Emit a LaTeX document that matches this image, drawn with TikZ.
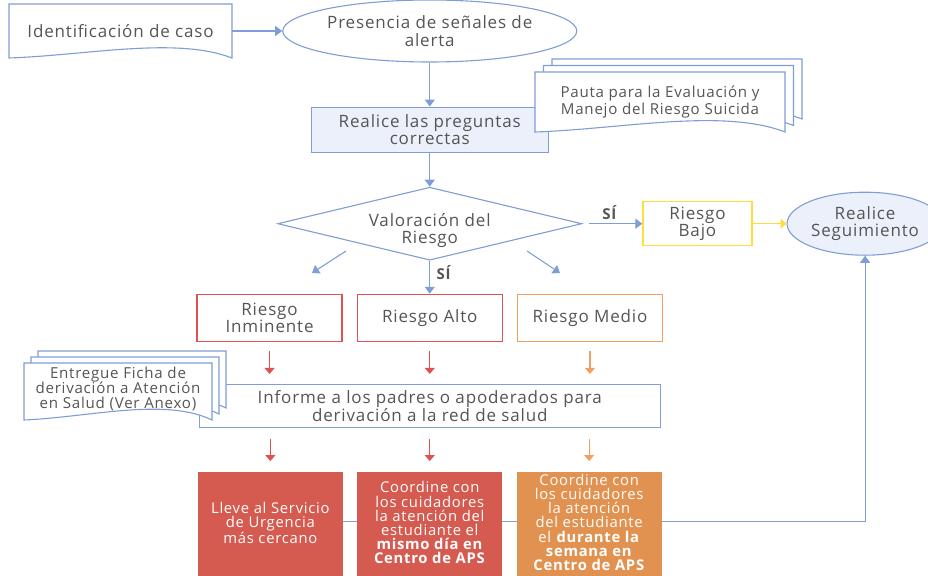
\documentclass[tikz,border=0pt]{standalone}
\usepackage{fontspec}
\setmainfont{Open Sans}[LetterSpace=5]
\usetikzlibrary{arrows.meta,positioning,calc,shapes.geometric,backgrounds}

\definecolor{flowblue}{RGB}{127,158,214}
\definecolor{paleblue}{RGB}{236,240,250}
\definecolor{riskred}{RGB}{224,82,82}
\definecolor{riskorange}{RGB}{240,160,96}
\definecolor{riskyellow}{RGB}{255,222,60}
\definecolor{fillred}{RGB}{213,90,80}
\definecolor{fillorange}{RGB}{226,146,80}
\definecolor{txtgray}{RGB}{85,85,85}

% document outline: centre x, centre y, width, height, style
\newcommand{\docshape}[5]{%
  \draw[#5] (#1-#3/2,#2-#4/2) -- (#1+#3/2,#2-#4/2) -- (#1+#3/2,#2+#4/2)
    .. controls (#1+#3/4,#2+0.1*#4) and (#1-0.15*#3,#2+0.45*#4) .. (#1-#3/2,#2+#4/2) -- cycle;}

\begin{document}
\begin{tikzpicture}[
  x=1pt, y=-1pt,
  txt/.style={font=\fontsize{17}{16.5}\selectfont, text=txtgray, align=center},
  smalltxt/.style={font=\fontsize{15.1}{16.5}\selectfont, text=txtgray, align=center},
  docline/.style={draw=flowblue, line width=1.1pt, fill=white},
  flowbox/.style={txt, draw=flowblue, line width=1.1pt, inner sep=0pt},
  oval/.style={txt, ellipse, draw=flowblue, line width=1.1pt, inner sep=0pt},
  riskbox/.style={txt, draw=#1, line width=1.2pt, fill=white, minimum width=145pt, minimum height=47pt, inner sep=0pt},
  actbox/.style={fill=#1, minimum width=145pt, minimum height=109pt, inner sep=0pt},
  acttxt/.style={font=\fontsize{14.8}{14.2}\selectfont, text=white, align=center},
  arr/.style={draw=flowblue, line width=1.1pt, -{Triangle[width=10pt,length=7pt]}},
  colarr/.style={draw=#1, line width=1.2pt, -{Triangle[width=10pt,length=6pt]}},
  yes/.style={font=\fontsize{15}{17}\bfseries, text=txtgray}
]
\useasboundingbox (0,0) rectangle (928,575);

% top row
\docshape{120.5}{31}{223}{54}{docline}
\node[txt, minimum width=223pt, minimum height=54pt, inner sep=0pt] (ident) at (120.5,31) {Identificación de caso};
\node[oval, fill=white, minimum width=294pt, minimum height=62pt, right=50pt of ident, font=\fontsize{17}{18}\selectfont] (alerta) {Presencia de señales de\\alerta};
\draw[arr] (ident) -- (alerta);

\node[flowbox, fill=paleblue, minimum width=237pt, minimum height=45pt, below=44pt of alerta] (preg) {Realice las preguntas\\correctas};
\draw[arr] (alerta) -- (preg);

\foreach \s in {2,1,0}
  \docshape{660+8.5*\s}{102-6.5*\s}{250}{60}{docline}
\node[smalltxt, font=\fontsize{15.1}{17}\selectfont] (pauta) at (660,102) {Pauta para la Evaluación y\\Manejo del Riesgo Suicida};

% decision
\node[diamond, draw=flowblue, line width=1.1pt, fill=white, minimum width=304pt, minimum height=73pt, aspect=4.2, inner sep=0pt, below=34pt of preg] (valor) {};
\node[txt] (valortxt) at ([yshift=-7pt]valor.center) {Valoración del\\Riesgo};
\draw[arr] (preg) -- (valor);

\node[riskbox=riskyellow, minimum width=109pt, minimum height=44pt, right=60pt of valor] (bajo) {Riesgo\\Bajo};
\node[oval, fill=paleblue, minimum width=156pt, minimum height=63pt, right=34pt of bajo] (seguim) {Realice\\Seguimiento};
\draw[arr] ([xshift=7pt]valor.east) -- node[yes, pos=0.38, above] {SÍ} (bajo);
\draw[colarr=riskyellow] (bajo) -- (seguim);

% risk levels
\node[riskbox=riskred, below=33pt of valor] (riskalto) {Riesgo Alto};
\node[riskbox=riskred, left=14pt of riskalto] (riskinm) {Riesgo\\Inminente};
\node[riskbox=riskorange, right=14pt of riskalto] (riskmed) {Riesgo Medio};
\draw[arr] (valor) -- node[yes, pos=0.35, right, xshift=3pt] {SÍ} (riskalto);

\coordinate (dl1) at (346,251);
\coordinate (dl2) at (312,273);
\coordinate (dr1) at (527,251);
\coordinate (dr2) at (560,273);
\draw[arr] (dl1) -- (dl2);
\draw[arr] (dr1) -- (dr2);

% referral
\node[flowbox, fill=white, minimum width=461pt, minimum height=43pt, below=42pt of riskalto] (informe) {Informe a los padres o apoderados para\\derivación a la red de salud};
\foreach \n/\c in {riskinm/riskred, riskalto/riskred, riskmed/riskorange}
  \draw[colarr=\c, shorten <=9pt, shorten >=10pt] (\n.south) -- (\n.south |- informe.north);

\foreach \s in {2,1,0}
  \docshape{118+7*\s}{391.5-6*\s}{188}{57}{docline}
\node[smalltxt, font=\fontsize{15.1}{15.3}\selectfont] (ficha) at (118,389) {Entregue Ficha de\\derivación a Atención\\en Salud (Ver Anexo)};

% actions
\node[actbox=fillred, below=44pt of informe] (coordalto) {};
\node[actbox=fillred, left=14pt of coordalto] (lleve) {};
\node[actbox=fillorange, right=14pt of coordalto] (coordmed) {};
\node[acttxt] (llevetxt) at ([yshift=4pt]lleve.center) {Lleve al Servicio\\de Urgencia\\más cercano};
\node[acttxt] (coordaltotxt) at ([yshift=4pt]coordalto.center) {Coordine con\\los cuidadores\\la atención del\\estudiante el\\\textbf{mismo día en}\\\textbf{Centro de APS}};
\node[acttxt] (coordmedtxt) at ([yshift=4.5pt]coordmed.center) {Coordine con\\los cuidadores\\la atención\\del estudiante\\el \textbf{durante la}\\\textbf{semana en}\\\textbf{Centro de APS}};
\foreach \n/\c in {lleve/riskred, coordalto/riskred, coordmed/riskorange}
  \draw[colarr=\c, shorten <=11pt, shorten >=11pt] (\n.north |- informe.south) -- (\n.north);

\begin{scope}[on background layer]
  \draw[arr] ([yshift=5pt]lleve.east) -| (seguim.south);
\end{scope}

\end{tikzpicture}
\end{document}
